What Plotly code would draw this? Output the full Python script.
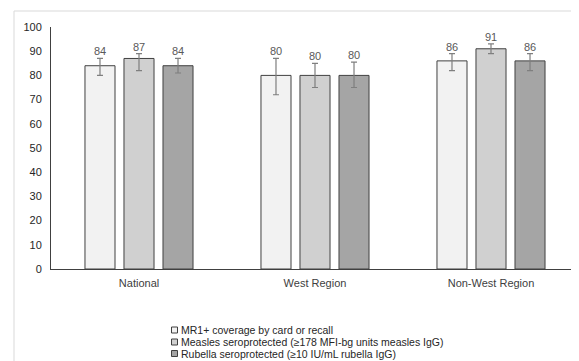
import plotly.graph_objects as go

categories = ["National", "West Region", "Non-West Region"]
series_names = [
    "MR1+ coverage by card or recall",
    "Measles seroprotected (≥178 MFI-bg units measles IgG)",
    "Rubella seroprotected (≥10 IU/mL rubella IgG)",
]
mr1 = [84, 80, 86]
mr1_lo = [80, 72, 82]
mr1_hi = [87, 87, 89]
measles = [87, 80, 91]
measles_lo = [82, 75, 89]
measles_hi = [89, 85, 93]
rubella = [84, 80, 86]
rubella_lo = [81, 75, 82]
rubella_hi = [87, 85.5, 89]
colors = ["#F2F2F2", "#D0D0D0", "#A5A5A5"]
y_ticks = list(range(0, 101, 10))

W, H = 579, 361
ml, mr, mt, mb = 43, 8, 19, 100
pw, ph = W - ml - mr, H - mt - mb


def px(xp):
    return (xp - ml) / pw


def py(yp):
    return (mt + ph - yp) / ph


fig = go.Figure()
series = [(mr1, mr1_lo, mr1_hi), (measles, measles_lo, measles_hi), (rubella, rubella_lo, rubella_hi)]
slot = (1 - 0.335) / 3
for k, ((vals, lo, hi), name, col) in enumerate(zip(series, series_names, colors)):
    fig.add_trace(go.Bar(
        x=categories, y=vals, name=name,
        marker=dict(color=col, line=dict(color="#404040", width=1)),
        error_y=dict(type="data", symmetric=False,
                     array=[h - v for h, v in zip(hi, vals)],
                     arrayminus=[v - l for v, l in zip(vals, lo)],
                     color="#7F7F7F", thickness=1.2, width=3),
    ))
    for i, (v, h) in enumerate(zip(vals, hi)):
        fig.add_annotation(x=i + (k - 1) * slot, y=h, text=str(v), showarrow=False,
                           xref="x", yref="y", yanchor="bottom", yshift=-1,
                           font=dict(size=11, color="#595959"))

# custom legend (square + text per series)
legend_rows = [322, 334, 345.5]
for name, col, yr in zip(series_names, colors, legend_rows):
    fig.add_shape(type="rect", xref="paper", yref="paper",
                  x0=px(163.5), x1=px(169.5), y0=py(yr + 3), y1=py(yr - 3),
                  line=dict(color="#404040", width=1), fillcolor=col)
    fig.add_annotation(xref="paper", yref="paper", x=px(171), y=py(yr),
                       text=name, showarrow=False, xanchor="left", yanchor="middle",
                       font=dict(size=10.5, color="#262626"))

# faint frame lines (top / left edge of the original image)
fig.add_shape(type="line", xref="paper", yref="paper", x0=px(6), x1=px(579), y0=py(3), y1=py(3),
              line=dict(color="#D9D9D9", width=1))
fig.add_shape(type="line", xref="paper", yref="paper", x0=px(6), x1=px(6), y0=py(3), y1=py(361),
              line=dict(color="#D9D9D9", width=1))

fig.update_layout(
    width=W, height=H,
    margin=dict(l=ml, r=mr, t=mt, b=mb),
    paper_bgcolor="white", plot_bgcolor="white",
    barmode="group", bargap=0.335, bargroupgap=0.23,
    font=dict(family="Liberation Sans, Arial, sans-serif", size=11, color="#404040"),
    showlegend=False,
    xaxis=dict(showline=True, linecolor="#404040", linewidth=1, ticks="",
               tickfont=dict(size=11, color="#404040"), ticklabelstandoff=4),
    yaxis=dict(range=[0, 100], tickvals=y_ticks, showgrid=False, showline=True,
               linecolor="#404040", linewidth=1, ticks="", zeroline=False,
               tickfont=dict(size=11, color="#262626"), ticklabelstandoff=6),
)

fig.write_html("out.html")
